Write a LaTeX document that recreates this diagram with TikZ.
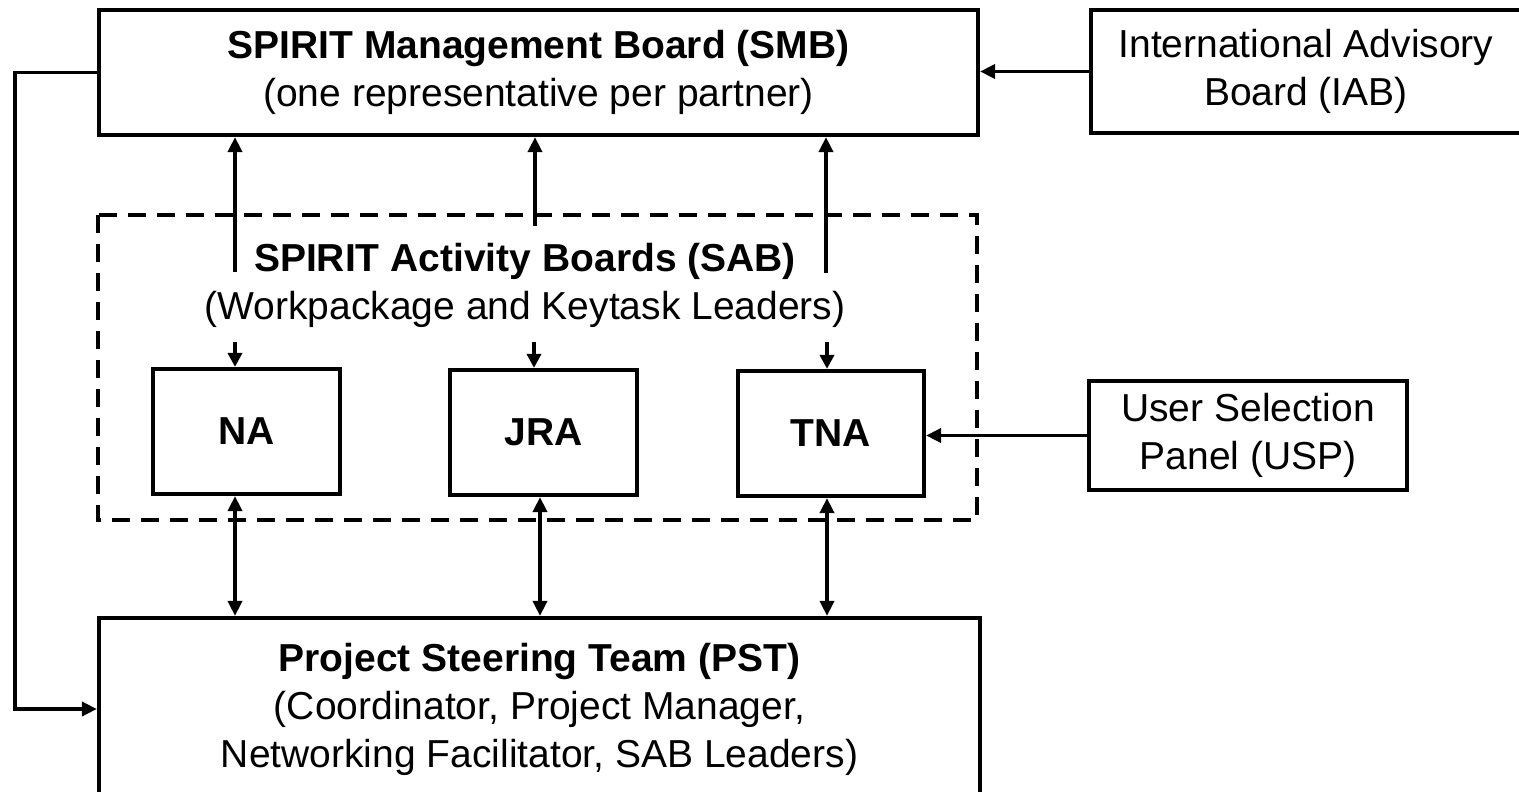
\documentclass[tikz,border=0pt]{standalone}
\usepackage{fontspec}
\setmainfont{Liberation Sans}
\usetikzlibrary{arrows.meta}
\begin{document}
\begin{tikzpicture}[x=1pt,y=-1pt,
  box/.style={draw,line width=4.2pt,rectangle,inner sep=0pt,align=center,font=\fontsize{39}{48}\selectfont},
  lbl/.style={inner sep=0pt,align=center,font=\fontsize{39}{48}\selectfont},
  arr/.style={line width=3.6pt,-{Triangle[length=15pt,width=14pt]}},
  darr/.style={line width=3.6pt,{Triangle[length=15pt,width=14pt]}-{Triangle[length=15pt,width=14pt]}},
  sarr/.style={line width=3.6pt,-{Triangle[length=14pt,width=14pt]}},
  dbox/.style={draw,line width=4pt,dash pattern=on 18pt off 11pt}]
\useasboundingbox (0,0) rectangle (1519,792);
\node[box,minimum width=879pt,minimum height=125pt] (SMB) at (538.5,72.5)
  {\textbf{SPIRIT Management Board (SMB)}\\(one representative per partner)};
\node[box,minimum width=430pt,minimum height=123pt] (IAB) at (1306,71.5)
  {International Advisory\\Board (IAB)};
\draw[dbox] (98,215) rectangle (977,520);
\node[lbl] (SAB) at (525,285) {\textbf{SPIRIT Activity Boards (SAB)}\\(Workpackage and Keytask Leaders)};
\node[box,minimum width=187pt,minimum height=125pt] (NA) at (246.5,431.5) {\textbf{NA}};
\node[box,minimum width=187pt,minimum height=125pt] (JRA) at (543.5,432.5) {\textbf{JRA}};
\node[box,minimum width=186pt,minimum height=125pt] (TNA) at (831,433.5) {\textbf{TNA}};
\node[box,minimum width=318pt,minimum height=109pt] (USP) at (1248,435.5) {User Selection\\Panel (USP)};
\node[box,minimum width=881pt,minimum height=182pt] (PST) at (539.5,709)
  {\textbf{Project Steering Team (PST)}\\(Coordinator, Project Manager,\\Networking Facilitator, SAB Leaders)};
% up arrows from SAB to SMB
\coordinate (u1) at (235,272);
\coordinate (u2) at (535,226);
\coordinate (u3) at (826,273);
\draw[arr] (u1) -- (u1 |- SMB.south);
\draw[arr] (u2) -- (u2 |- SMB.south);
\draw[arr] (u3) -- (u3 |- SMB.south);
% small arrows down to activity boxes
\coordinate (d1) at (235,342);
\coordinate (d2) at (534,342);
\coordinate (d3) at (827,342);
\draw[sarr] (d1) -- (d1 |- NA.north);
\draw[sarr] (d2) -- (d2 |- JRA.north);
\draw[sarr] (d3) -- (d3 |- TNA.north);
% double arrows to PST
\coordinate (b1) at (235,600);
\coordinate (b2) at (540,600);
\coordinate (b3) at (827,600);
\draw[darr] (b1 |- NA.south) -- (b1 |- PST.north);
\draw[darr] (b2 |- JRA.south) -- (b2 |- PST.north);
\draw[darr] (b3 |- TNA.south) -- (b3 |- PST.north);
% side connections
\draw[arr] (IAB.west) -- (IAB.west -| SMB.east);
\draw[arr] (USP.west) -- (USP.west -| TNA.east);
\coordinate (L) at (15,72.5);
\draw[arr] (SMB.west) -- (L) |- (PST.west);
\end{tikzpicture}
\end{document}
